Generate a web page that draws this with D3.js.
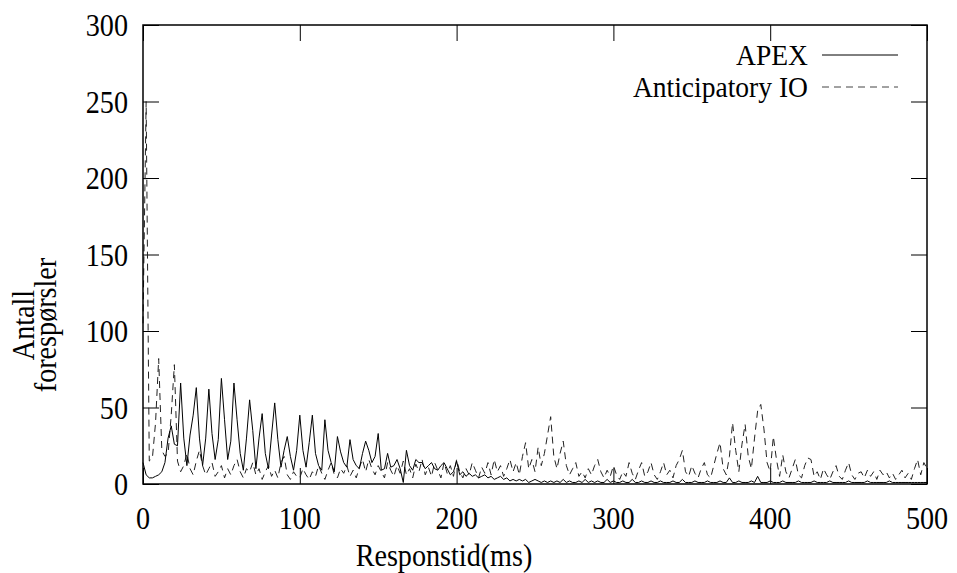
<!DOCTYPE html>
<html>
<head>
<meta charset="utf-8">
<script src="https://cdn.jsdelivr.net/npm/d3@7"></script>
<style>
  body { margin: 0; background: #fff; }
  text { font-family: "Liberation Serif", "Times New Roman", serif; fill: #000; font-size: 32px; }
  .legend text { font-size: 29px; }
</style>
</head>
<body>
<div id="chart"></div>
<script>
// histogram bins, 2 ms wide, 0..500 ms
var binWidth = 2;

var apex = [
  14, 6, 4, 4, 5, 6, 8, 14, 30, 38,
  26, 25, 66, 30, 12, 32, 45, 63, 30, 12,
  30, 62, 33, 16, 29, 69, 42, 16, 28, 66,
  42, 20, 9, 30, 55, 35, 10, 30, 46, 20,
  10, 32, 53, 29, 11, 22, 31, 18, 9, 22,
  45, 22, 11, 27, 45, 20, 12, 9, 42, 22,
  14, 8, 31, 21, 14, 11, 29, 16, 12, 10,
  20, 28, 22, 14, 18, 33, 9, 10, 20, 11,
  12, 16, 10, 1, 22, 12, 9, 16, 14, 14,
  10, 12, 14, 10, 9, 12, 14, 10, 6, 8,
  15, 6, 8, 5, 7, 5, 6, 4, 5, 6,
  4, 5, 3, 4, 5, 3, 4, 2, 3, 2,
  3, 2, 3, 1, 2, 3, 2, 1, 2, 1,
  2, 1, 2, 1, 3, 1, 2, 1, 1, 2,
  1, 3, 1, 2, 1, 2, 1, 1, 3, 1,
  2, 1, 1, 2, 1, 1, 3, 1, 1, 2,
  1, 1, 2, 1, 1, 2, 1, 1, 1, 2,
  1, 1, 3, 1, 1, 1, 2, 1, 1, 1,
  2, 1, 1, 1, 2, 1, 1, 4, 1, 1,
  2, 1, 1, 1, 2, 1, 5, 1, 1, 1,
  2, 1, 1, 1, 2, 1, 1, 1, 1, 2,
  1, 1, 1, 1, 2, 1, 1, 1, 1, 2,
  1, 1, 1, 1, 1, 2, 1, 1, 1, 1,
  1, 2, 1, 1, 1, 1, 1, 1, 2, 1,
  1, 1, 1, 1, 1, 1, 1, 1, 1, 1,
  1
];

var anticipatory = [
  105, 250, 15, 17, 40, 82, 22, 18, 20, 45,
  78, 15, 8, 12, 20, 10, 6, 15, 22, 12,
  6, 10, 14, 5, 8, 12, 4, 10, 6, 12,
  16, 8, 4, 10, 8, 14, 6, 10, 3, 8,
  12, 5, 9, 4, 14, 18, 6, 3, 8, 5,
  4, 10, 6, 3, 8, 5, 12, 7, 3, 9,
  14, 6, 4, 10, 7, 12, 5, 9, 4, 11,
  16, 8, 16, 10, 6, 12, 8, 4, 14, 9,
  5, 12, 7, 15, 6, 10, 4, 13, 8, 16,
  6, 11, 5, 14, 9, 4, 14, 7, 12, 5,
  16, 8, 4, 10, 6, 14, 9, 4, 11, 7,
  14, 6, 16, 8, 12, 5, 10, 16, 8, 14,
  6, 18, 27, 10, 16, 8, 24, 12, 20, 32,
  44, 18, 10, 20, 28, 12, 6, 10, 14, 5,
  8, 4, 10, 6, 12, 16, 8, 4, 9, 5,
  12, 6, 3, 8, 5, 14, 7, 3, 9, 14,
  5, 8, 14, 6, 3, 8, 14, 6, 9, 4,
  12, 16, 22, 8, 5, 12, 7, 4, 10, 14,
  6, 4, 12, 20, 27, 10, 6, 18, 40, 22,
  8, 26, 39, 18, 10, 30, 48, 52, 36, 14,
  8, 31, 16, 5, 19, 8, 4, 10, 16, 6,
  4, 12, 17, 16, 5, 8, 3, 10, 6, 3,
  8, 12, 5, 3, 9, 14, 6, 3, 7, 8,
  4, 9, 5, 8, 3, 9, 6, 8, 4, 7,
  3, 6, 9, 4, 7, 3, 10, 16, 6, 14,
  10
];

var seriesNames = ["APEX", "Anticipatory IO"];
var xTicks = [0, 100, 200, 300, 400, 500];
var yTicks = [0, 50, 100, 150, 200, 250, 300];

var width = 957, height = 573;
var margin = {top: 25, right: 30, bottom: 89, left: 143};
var plotW = width - margin.left - margin.right;
var plotH = height - margin.top - margin.bottom;

// the reference uses a narrow Times face, so squeeze the glyphs a little
function place(sel, fx, fy, sq) {
    sq = sq || 0.88;
    sel.attr("transform", (d, i) => `translate(${fx(d, i)},${fy(d, i)}) scale(${sq},1)`);
}

var svg = d3.select("#chart").append("svg")
    .attr("width", width)
    .attr("height", height);

var g = svg.append("g")
    .attr("transform", `translate(${margin.left},${margin.top})`);

var x = d3.scaleLinear().domain([0, 500]).range([0, plotW]);
var y = d3.scaleLinear().domain([0, 300]).range([plotH, 0]);

var tickLen = 16;

// ticks pointing inward, mirrored on all four sides
g.append("g").call(d3.axisBottom(x).tickValues(xTicks).tickSize(-tickLen).tickFormat(""))
    .attr("transform", `translate(0,${plotH})`);
g.append("g").call(d3.axisTop(x).tickValues(xTicks).tickSize(-tickLen).tickFormat(""));
g.append("g").call(d3.axisLeft(y).tickValues(yTicks).tickSize(-tickLen).tickFormat(""));
g.append("g").call(d3.axisRight(y).tickValues(yTicks).tickSize(-tickLen).tickFormat(""))
    .attr("transform", `translate(${plotW},0)`);
g.selectAll(".domain").remove();
g.selectAll(".tick line").attr("stroke", "#000").attr("stroke-width", 1);

// tick labels
g.selectAll(".xlab")
    .data(xTicks)
    .enter().append("text")
    .attr("class", "xlab")
    .attr("text-anchor", "middle")
    .text(d => d)
    .call(place, d => x(d), () => plotH + 45);

g.selectAll(".ylab")
    .data(yTicks)
    .enter().append("text")
    .attr("class", "ylab")
    .attr("text-anchor", "end")
    .text(d => d)
    .call(place, () => -15, d => y(d) + 11);

// lines
var line = d3.line()
    .x((d, i) => x(i * binWidth))
    .y(d => y(d));

g.append("path")
    .datum(anticipatory)
    .attr("fill", "none")
    .attr("stroke", "#222")
    .attr("stroke-width", 1)
    .attr("stroke-dasharray", "7,5")
    .attr("d", line);

g.append("path")
    .datum(apex)
    .attr("fill", "none")
    .attr("stroke", "#000")
    .attr("stroke-width", 1)
    .attr("d", line);

// frame
g.append("rect")
    .attr("width", plotW)
    .attr("height", plotH)
    .attr("fill", "none")
    .attr("stroke", "#000")
    .attr("stroke-width", 1.5);

// legend
var legend = g.selectAll(".legend")
    .data(seriesNames)
    .enter().append("g")
    .attr("class", "legend")
    .attr("transform", (d, i) => `translate(0,${30 + i * 32})`);

legend.append("text")
    .attr("text-anchor", "end")
    .text(d => d)
    .call(place, () => 665, () => 10, 0.95);

legend.append("line")
    .attr("x1", 679)
    .attr("x2", 755)
    .attr("y1", 0)
    .attr("y2", 0)
    .attr("stroke", (d, i) => i === 0 ? "#000" : "#444")
    .attr("stroke-width", 1)
    .attr("stroke-dasharray", (d, i) => i === 0 ? null : "7,5");

// axis titles
svg.append("text")
    .attr("text-anchor", "middle")
    .text("Responstid(ms)")
    .call(place, () => 444, () => 566);

var ytitle = svg.append("g")
    .attr("transform", "translate(36,325) rotate(-90)");
ytitle.append("text")
    .attr("text-anchor", "middle")
    .text("Antall")
    .call(place, () => 0, () => -2);
ytitle.append("text")
    .attr("text-anchor", "middle")
    .text("forespørsler")
    .call(place, () => 0, () => 20);
</script>
</body>
</html>
